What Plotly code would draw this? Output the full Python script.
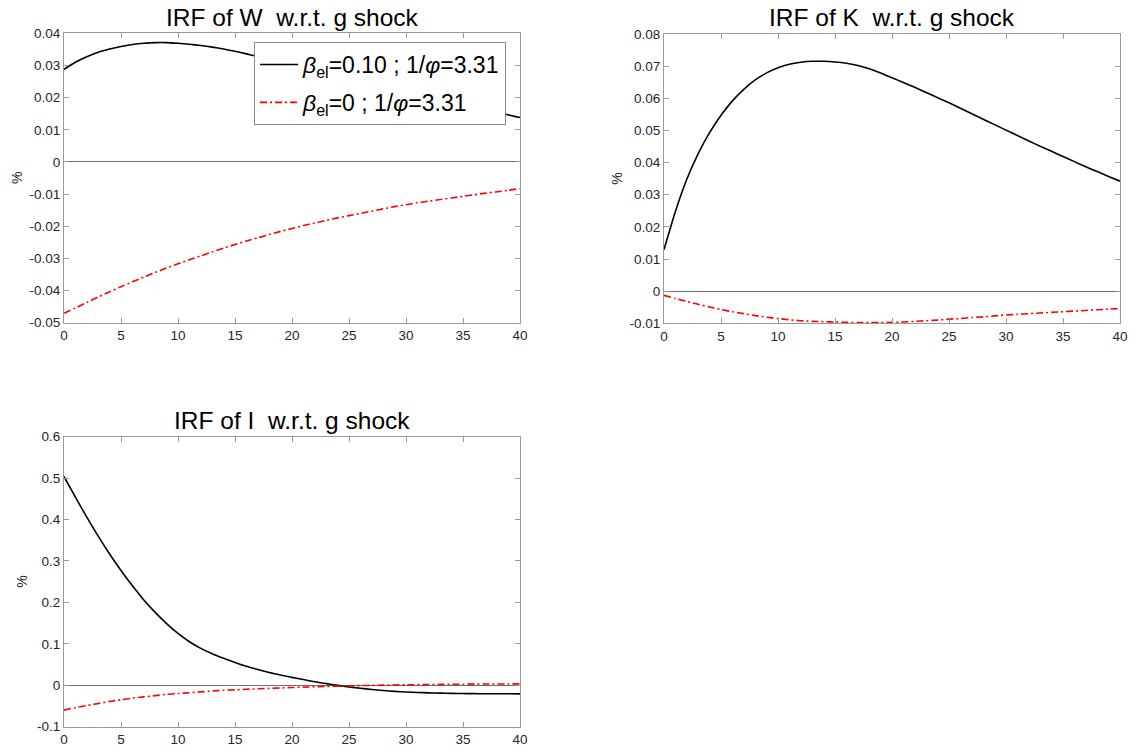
import plotly.graph_objects as go

# Horizon (periods after the shock)
periods = list(range(41))

# IRF of W w.r.t. g shock
w_beta010 = [0.0288, 0.0310, 0.0327, 0.0341, 0.0351, 0.0359, 0.0365, 0.0369, 0.0371, 0.0371,
             0.0369, 0.0366, 0.0362, 0.0357, 0.0351, 0.0344, 0.0336, 0.0328, 0.0320, 0.0311,
             0.0303, 0.0294, 0.0286, 0.0278, 0.0270, 0.0262, 0.0253, 0.0245, 0.0237, 0.0229,
             0.0220, 0.0212, 0.0204, 0.0196, 0.0188, 0.0179, 0.0171, 0.0163, 0.0155, 0.0146,
             0.0138]
w_beta0 = [-0.0471, -0.0454, -0.0437, -0.0420, -0.0404, -0.0388, -0.0373, -0.0358, -0.0344, -0.0330,
           -0.0317, -0.0304, -0.0292, -0.0280, -0.0268, -0.0257, -0.0246, -0.0236, -0.0226, -0.0216,
           -0.0207, -0.0198, -0.0190, -0.0182, -0.0174, -0.0167, -0.0160, -0.0153, -0.0146, -0.0139,
           -0.0133, -0.0127, -0.0122, -0.0117, -0.0112, -0.0107, -0.0102, -0.0097, -0.0093, -0.0088,
           -0.0083]

# IRF of K w.r.t. g shock
k_beta010 = [0.0129, 0.0248, 0.0348, 0.0428, 0.0493, 0.0547, 0.0592, 0.0628, 0.0657, 0.0679,
             0.0695, 0.0706, 0.0712, 0.0715, 0.0715, 0.0713, 0.0709, 0.0702, 0.0692, 0.0679,
             0.0664, 0.0649, 0.0634, 0.0618, 0.0602, 0.0586, 0.0569, 0.0552, 0.0535, 0.0518,
             0.0501, 0.0484, 0.0467, 0.0451, 0.0435, 0.0419, 0.0403, 0.0387, 0.0372, 0.0357,
             0.0342]
k_beta0 = [-0.0013, -0.0023, -0.0032, -0.0041, -0.0049, -0.0057, -0.0064, -0.0070, -0.0076, -0.0081,
           -0.0085, -0.0089, -0.0092, -0.0094, -0.0095, -0.0096, -0.0097, -0.0098, -0.0098, -0.0098,
           -0.0097, -0.0096, -0.0094, -0.0092, -0.0090, -0.0087, -0.0085, -0.0082, -0.0080, -0.0077,
           -0.0074, -0.0072, -0.0070, -0.0068, -0.0066, -0.0064, -0.0062, -0.0060, -0.0058, -0.0056,
           -0.0054]

# IRF of I w.r.t. g shock
i_beta010 = [0.504, 0.454, 0.406, 0.360, 0.317, 0.277, 0.240, 0.206, 0.176, 0.149,
             0.125, 0.105, 0.089, 0.076, 0.065, 0.055, 0.046, 0.038, 0.031, 0.025,
             0.019, 0.0138, 0.0085, 0.0040, -0.0003, -0.0040, -0.0073, -0.0102, -0.0127, -0.0147,
             -0.0162, -0.0174, -0.0183, -0.0190, -0.0195, -0.0199, -0.0202, -0.0204, -0.0205, -0.0206,
             -0.0207]
i_beta0 = [-0.060, -0.054, -0.049, -0.044, -0.039, -0.035, -0.031, -0.028, -0.025, -0.022,
           -0.020, -0.018, -0.016, -0.014, -0.012, -0.011, -0.0097, -0.0085, -0.0074, -0.0064,
           -0.0054, -0.0045, -0.0036, -0.0028, -0.0020, -0.0013, -0.0007, -0.0002, 0.0003, 0.0007,
           0.0011, 0.0015, 0.0018, 0.0021, 0.0024, 0.0026, 0.0028, 0.0030, 0.0032, 0.0033,
           0.0034]

titles = ["IRF of W  w.r.t. g shock", "IRF of K  w.r.t. g shock", "IRF of I  w.r.t. g shock"]
series_names = ["<i>β</i><sub>el</sub>=0.10 ; 1/<i>φ</i>=3.31",
                "<i>β</i><sub>el</sub>=0 ; 1/<i>φ</i>=3.31"]
y_label = "%"

x_ticks = [0, 5, 10, 15, 20, 25, 30, 35, 40]
x_ticktext = ["0", "5", "10", "15", "20", "25", "30", "35", "40"]
w_ticks = [-0.05, -0.04, -0.03, -0.02, -0.01, 0, 0.01, 0.02, 0.03, 0.04]
w_ticktext = ["-0.05", "-0.04", "-0.03", "-0.02", "-0.01", "0", "0.01", "0.02", "0.03", "0.04"]
k_ticks = [-0.01, 0, 0.01, 0.02, 0.03, 0.04, 0.05, 0.06, 0.07, 0.08]
k_ticktext = ["-0.01", "0", "0.01", "0.02", "0.03", "0.04", "0.05", "0.06", "0.07", "0.08"]
i_ticks = [-0.1, 0, 0.1, 0.2, 0.3, 0.4, 0.5, 0.6]
i_ticktext = ["-0.1", "0", "0.1", "0.2", "0.3", "0.4", "0.5", "0.6"]

W, H = 1130, 751
FONT = "Liberation Sans, Arial, Helvetica, sans-serif"
TXT = "#262626"
BOX = "#9a9a9a"

# pixel boxes of the three axes: (left, right, top, bottom)
panels = [
    (64, 520, 33.3, 322.7),
    (664, 1120, 34.0, 323.3),
    (64, 520, 436.7, 726.7),
]
# x pixel of the rotated "%" label, one per panel
ylabel_x = [17, 617, 22]

fig = go.Figure()

data = [(w_beta010, w_beta0), (k_beta010, k_beta0), (i_beta010, i_beta0)]
for idx, (solid, dashed) in enumerate(data):
    ax = "" if idx == 0 else str(idx + 1)
    fig.add_trace(go.Scatter(
        x=periods, y=solid, mode="lines", name=series_names[0], legendgroup="a",
        line=dict(color="#000000", width=1.6, shape="spline", smoothing=0.6),
        xaxis="x" + ax, yaxis="y" + ax, showlegend=(idx == 0)))
    fig.add_trace(go.Scatter(
        x=periods, y=dashed, mode="lines", name=series_names[1], legendgroup="b",
        line=dict(color="#ff0000", width=1.6, dash="7px,3px,2px,3px",
                  shape="spline", smoothing=0.6),
        xaxis="x" + ax, yaxis="y" + ax, showlegend=(idx == 0)))

y_specs = [
    ([-0.05, 0.04], w_ticks, w_ticktext),
    ([-0.01, 0.08], k_ticks, k_ticktext),
    ([-0.1, 0.6], i_ticks, i_ticktext),
]

layout = dict(
    width=W, height=H,
    margin=dict(l=0, r=0, t=0, b=0),
    paper_bgcolor="white", plot_bgcolor="white",
    font=dict(family=FONT, color=TXT, size=13),
    legend=dict(
        x=254 / W, y=1 - 42 / H, xanchor="left", yanchor="top",
        bgcolor="white", bordercolor="#8a8a8a", borderwidth=1,
        font=dict(family=FONT, size=23, color="#000000"),
        itemwidth=38, traceorder="grouped", tracegroupgap=5,
    ),
    annotations=[],
)

for idx, (l, r, t, b) in enumerate(panels):
    ax = "" if idx == 0 else str(idx + 1)
    rng, tv, tt = y_specs[idx]
    common = dict(
        showline=True, linecolor=BOX, linewidth=1, mirror="ticks",
        ticks="inside", ticklen=5, tickcolor=BOX, tickwidth=1,
        showgrid=False, automargin=False,
        tickfont=dict(family=FONT, size=13.5, color=TXT),
    )
    layout["xaxis" + ax] = dict(
        domain=[l / W, r / W], range=[0, 40], anchor="y" + ax,
        tickvals=x_ticks, ticktext=x_ticktext, zeroline=False, **common)
    layout["yaxis" + ax] = dict(
        domain=[1 - b / H, 1 - t / H], range=rng, anchor="x" + ax,
        tickvals=tv, ticktext=tt,
        zeroline=True, zerolinecolor="#6e6e6e", zerolinewidth=1,
        **common)
    layout["annotations"].append(dict(
        text=titles[idx], xref="paper", yref="paper",
        x=(l + r) / 2 / W, y=1 - (t - 16) / H, xanchor="center", yanchor="middle",
        showarrow=False, font=dict(family=FONT, size=24.5, color="#000000")))
    layout["annotations"].append(dict(
        text=y_label, xref="paper", yref="paper", textangle=-90,
        x=ylabel_x[idx] / W, y=1 - (t + b) / 2 / H, xanchor="center", yanchor="middle",
        showarrow=False, font=dict(family=FONT, size=14, color=TXT)))

fig.update_layout(**layout)
fig.write_html("out.html")
